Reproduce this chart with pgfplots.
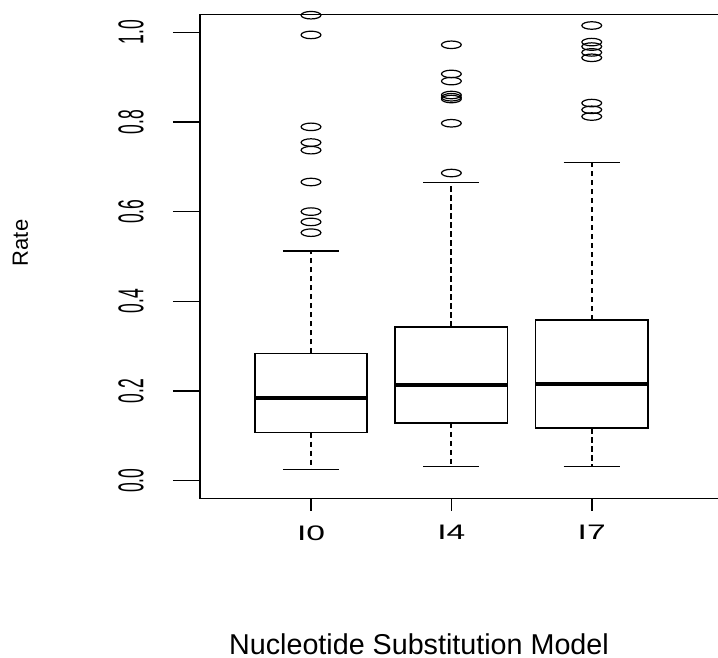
\documentclass[border=0pt]{standalone}
\usepackage{fontspec}
\setmainfont{Liberation Sans}
\usepackage{pgfplots}
\pgfplotsset{compat=1.18}
\usepgfplotslibrary{statistics}

\begin{document}
\begin{tikzpicture}
\begin{axis}[
  at={(100pt,79.7pt)}, anchor=south west,
  scale only axis, width=265pt, height=242.15pt,
  xmin=0.2091, xmax=3.985, ymin=-0.04, ymax=1.04,
  axis line style={line width=0.75pt, black},
  tick align=outside, tick pos=left,
  xtick={1,2,3}, xticklabels={I0,I4,I7},
  ytick={0,0.2,0.4,0.6,0.8,1.0},
  scaled y ticks=false,
  xtick style={line width=0.75pt, black, /pgfplots/major tick length=6pt},
  ytick style={line width=0.65pt, black, /pgfplots/major tick length=13.5pt},
  xticklabel style={yshift=-9pt, anchor=north, inner sep=0pt, xscale=1.6,
    font=\fontsize{10.5}{12}\selectfont},
  yticklabel style={xshift=-23.5pt, rotate=90, yscale=2.05, anchor=south, inner sep=0pt,
    font=\fontsize{8.75}{10}\selectfont,
    /pgf/number format/fixed, /pgf/number format/fixed zerofill,
    /pgf/number format/precision=1, /pgf/number format/assume math mode=true},
  ylabel={Rate},
  ylabel style={at={(axis description cs:-0.3387,0.5278)}, anchor=center,
    font=\fontsize{11}{13}\selectfont},
  xlabel={Nucleotide Substitution Model},
  xlabel style={at={(axis description cs:0.4132,-0.3209)}, anchor=base,
    font=\fontsize{14.35}{17}\selectfont},
  boxplot/draw direction=y,
  boxplot/box extend=0.8,
  boxplot/every box/.style={line width=0.8pt},
  boxplot/every median/.style={line width=2pt},
  % dashed whisker (quartile to end) with a solid staple at its end
  boxplot/draw/whisker/.code 2 args={%
    \draw[line width=1.1pt, dash pattern=on 2.75pt off 1.75pt]
      (boxplot box cs:#1,0.5) -- (boxplot box cs:#2,0.5);
    \draw[line width=0.65pt]
      (boxplot box cs:#2,0.25) -- (boxplot box cs:#2,0.75);
  },
  outlier/.style={black, mark=o, mark size=1.875pt,
    mark options={xscale=2.64, line width=0.6pt}},
]
% I0
\addplot[outlier, boxplot prepared={draw position=1,
    lower whisker=0.025, lower quartile=0.107, median=0.184,
    upper quartile=0.284, upper whisker=0.512}]
  coordinates {(0,1.038) (0,0.994) (0,0.789) (0,0.754) (0,0.737)
               (0,0.666) (0,0.600) (0,0.577) (0,0.553)};
% I4
\addplot[outlier, boxplot prepared={draw position=2,
    lower whisker=0.031, lower quartile=0.129, median=0.213,
    upper quartile=0.343, upper whisker=0.665}]
  coordinates {(0,0.972) (0,0.907) (0,0.891) (0,0.860) (0,0.855)
               (0,0.851) (0,0.797) (0,0.686)};
% I7
\addplot[outlier, boxplot prepared={draw position=3,
    lower whisker=0.031, lower quartile=0.117, median=0.216,
    upper quartile=0.358, upper whisker=0.709}]
  coordinates {(0,1.015) (0,0.978) (0,0.968) (0,0.955) (0,0.943)
               (0,0.842) (0,0.827) (0,0.812)};
\end{axis}
\pgfresetboundingbox
\useasboundingbox (0pt,0pt) rectangle (359pt,329pt);
\end{tikzpicture}
\end{document}
